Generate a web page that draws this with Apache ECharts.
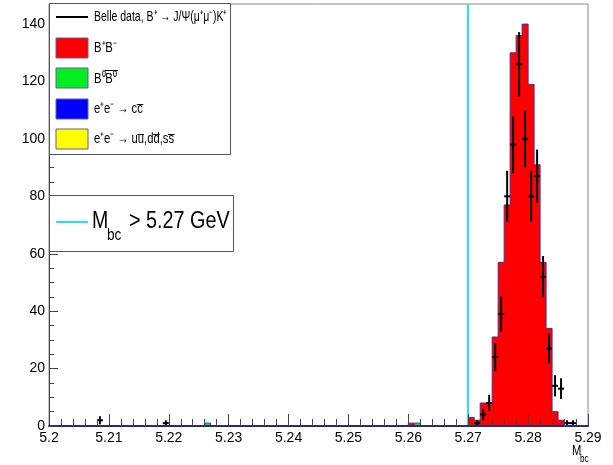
<!DOCTYPE html>
<html><head><meta charset="utf-8">
<script src="https://cdn.jsdelivr.net/npm/echarts@6/dist/echarts.min.js"></script>
<style>html,body{margin:0;padding:0;background:#fff}#c{width:613px;height:465px}</style>
</head><body><div id="c"></div>
<script>
// ---- tick labels ----
const xTickLabels = ['5.2','5.21','5.22','5.23','5.24','5.25','5.26','5.27','5.28','5.29'];
const yTickLabels = ['0','20','40','60','80','100','120','140'];
// ---- MC stack: B+B- (red) ; bin low edges and contents ----
const bpbmLow    = [5.260, 5.270, 5.271, 5.272, 5.273, 5.274, 5.275, 5.276, 5.277, 5.278, 5.279, 5.280, 5.281, 5.282, 5.283, 5.284, 5.285];
const bpbmCounts = [1,     3,     2,     8,     8,     31,    57,    77,    130,   136,   140,   119,   91,    57,    34,    5,     2];
// ---- B0 B0bar (green) ----
const b0b0Low    = [5.226, 5.261];
const b0b0Counts = [1, 1];
// ---- e+e- -> ccbar (blue), e+e- -> uds (yellow): empty ----
const ccLow = [], ccCounts = [];
const udsLow = [], udsCounts = [];
// ---- Belle data points (bin centres), counts, errors ----
const dataX   = [5.2085, 5.2195, 5.2715, 5.2725, 5.2735, 5.2745, 5.2755, 5.2765, 5.2775, 5.2785, 5.2795, 5.2805, 5.2815, 5.2825, 5.2835, 5.2845, 5.2855, 5.2865, 5.2875];
const dataY   = [2,      1,      1,      4,      8,      24,     39,     80,     98,     126,    100,    80,     87,     52,     27,     14,     13,     1,      1];
const dataErr = [1.4,    1,      1,      2,      2.8,    4.9,    6.2,    8.9,    9.9,    11.2,   10,     8.9,    9.3,    7.2,    5.2,    3.7,    3.6,    1,      1];
const binWidth = 0.001;
const cutValue = 5.27;

const FONT = '"Liberation Sans",Arial,sans-serif';

function outline(lows, counts) {
  const pts = []; let prevHi = null;
  lows.forEach((lo, i) => {
    const hi = lo + binWidth, v = counts[i];
    if (prevHi === null || Math.abs(lo - prevHi) > 1e-9) { if (prevHi !== null) pts.push([prevHi, 0]); pts.push([lo, 0]); }
    pts.push([lo, v], [hi, v]); prevHi = hi;
  });
  if (prevHi !== null) pts.push([prevHi, 0]);
  return pts;
}
function histSeries(name, lows, counts, color) {
  return { type: 'line', name, data: outline(lows, counts), symbol: 'none', z: 3, silent: true,
           lineStyle: { color: '#4a3090', width: 1 },
           areaStyle: { color: color, opacity: 1, origin: 'start' } };
}

const chart = echarts.init(document.getElementById('c'), null, { renderer: 'canvas' });
const axisLabelStyle = { fontFamily: FONT, fontSize: 14, color: '#000' };
function legText(x, y, text, size, sx) {
  return { type: 'text', z: 101, x, y, scaleX: sx, style: { text, font: size + 'px ' + FONT, fill: '#000', textVerticalAlign: 'middle' } };
}
chart.setOption({
  animation: false,
  backgroundColor: '#fff',
  grid: { left: 49, right: 25, top: 4, bottom: 39, show: true, borderColor: '#8a8a8a', borderWidth: 1, backgroundColor: 'transparent' },
  xAxis: {
    type: 'value', min: 5.2, max: 5.29, interval: 0.01, z: 10,
    axisLine: { onZero: false, lineStyle: { color: '#262a78', width: 2 } },
    axisTick: { inside: true, length: 12, lineStyle: { color: '#444', width: 1 } },
    minorTick: { show: true, splitNumber: 5, length: 7, lineStyle: { color: '#444', width: 1 } },
    splitLine: { show: false },
    axisLabel: Object.assign({ margin: 5, formatter: v => xTickLabels[Math.round((v - 5.2) / 0.01)] || '' }, axisLabelStyle)
  },
  yAxis: [{
    type: 'value', min: 0, max: 147, interval: 20, z: 10,
    axisLine: { lineStyle: { color: '#444', width: 1 } },
    axisTick: { inside: true, length: 9, lineStyle: { color: '#444', width: 1 } },
    splitLine: { show: false },
    axisLabel: Object.assign({ margin: 4, formatter: v => (v % 20 === 0 ? yTickLabels[v / 20] : '') }, axisLabelStyle)
  }, {
    type: 'value', min: 0, max: 147, interval: 5, position: 'left', offset: 0, z: 10,
    axisLine: { show: false },
    axisTick: { inside: true, length: 5, lineStyle: { color: '#444', width: 1 } },
    splitLine: { show: false },
    axisLabel: { show: false }
  }],
  series: [
    histSeries('uds', udsLow, udsCounts, '#ffff00'),
    histSeries('cc', ccLow, ccCounts, '#0000ff'),
    histSeries('B0B0', b0b0Low, b0b0Counts, '#00ee22'),
    histSeries('B+B-', bpbmLow, bpbmCounts, '#ff0000'),
    {
      type: 'custom', name: 'data', z: 6,
      data: dataX.map((x, i) => [x, dataY[i], dataErr[i]]),
      encode: { x: 0, y: 1 },
      renderItem(params, api) {
        const x = api.value(0), y = api.value(1), e = api.value(2);
        const top = api.coord([x, y + e]), bot = api.coord([x, Math.max(0, y - e)]);
        const l = api.coord([x - binWidth / 2, y]), r = api.coord([x + binWidth / 2, y]);
        return { type: 'group', children: [
          { type: 'line', shape: { x1: top[0], y1: top[1], x2: bot[0], y2: bot[1] }, style: { stroke: '#000', lineWidth: 2 } },
          { type: 'line', shape: { x1: l[0], y1: l[1], x2: r[0], y2: r[1] }, style: { stroke: '#000', lineWidth: 2 } }
        ] };
      }
    },
    {
      type: 'line', data: [], z: 7,
      markLine: { silent: true, symbol: 'none', label: { show: false },
        lineStyle: { color: '#1ee6f0', width: 2, type: 'solid' },
        data: [{ xAxis: cutValue }] }
    }
  ],
  graphic: [
    // legend 1
    { type: 'rect', z: 100, shape: { x: 49.5, y: 3.5, width: 181, height: 151 }, style: { fill: '#fff', stroke: '#555', lineWidth: 1 } },
    { type: 'line', z: 101, shape: { x1: 56, y1: 17, x2: 88, y2: 17 }, style: { stroke: '#000', lineWidth: 2 } },
    legText(94, 17, 'Belle data, B⁺ → J/Ψ(μ⁺μ⁻)K⁺', 15, 0.7),
    { type: 'rect', z: 101, shape: { x: 56, y: 38, width: 32, height: 20 }, style: { fill: '#ff0000', stroke: '#6a5a9a', lineWidth: 1 } },
    legText(94, 48, 'B⁺B⁻', 15, 0.75),
    { type: 'rect', z: 101, shape: { x: 56, y: 68, width: 32, height: 20 }, style: { fill: '#00ee22', stroke: '#6a5a9a', lineWidth: 1 } },
    legText(94, 79, 'B⁰B⁰', 15, 0.75),
    { type: 'line', z: 101, shape: { x1: 105, y1: 70.5, x2: 118, y2: 70.5 }, style: { stroke: '#000', lineWidth: 1 } },
    { type: 'rect', z: 101, shape: { x: 56, y: 99, width: 32, height: 20 }, style: { fill: '#0000ff', stroke: '#6a5a9a', lineWidth: 1 } },
    legText(94, 109, 'e⁺e⁻ → cc̅', 15, 0.75),
    { type: 'rect', z: 101, shape: { x: 56, y: 129, width: 32, height: 20 }, style: { fill: '#ffff00', stroke: '#6a5a9a', lineWidth: 1 } },
    legText(94, 139, 'e⁺e⁻ → uu̅,dd̅,ss̅', 15, 0.75),
    // legend 2
    { type: 'rect', z: 100, shape: { x: 49.5, y: 195.5, width: 184, height: 56 }, style: { fill: '#fff', stroke: '#555', lineWidth: 1 } },
    { type: 'line', z: 101, shape: { x1: 56, y1: 222, x2: 88, y2: 222 }, style: { stroke: '#1ee6f0', lineWidth: 2 } },
    legText(92, 222, 'M', 23, 0.85),
    legText(107, 236, 'bc', 16, 0.85),
    legText(129, 222, '> 5.27 GeV', 23, 0.86),
    // x axis title
    legText(572, 451, 'M', 14, 0.8),
    legText(580, 459, 'bc', 10, 0.8)
  ]
});
</script></body></html>
